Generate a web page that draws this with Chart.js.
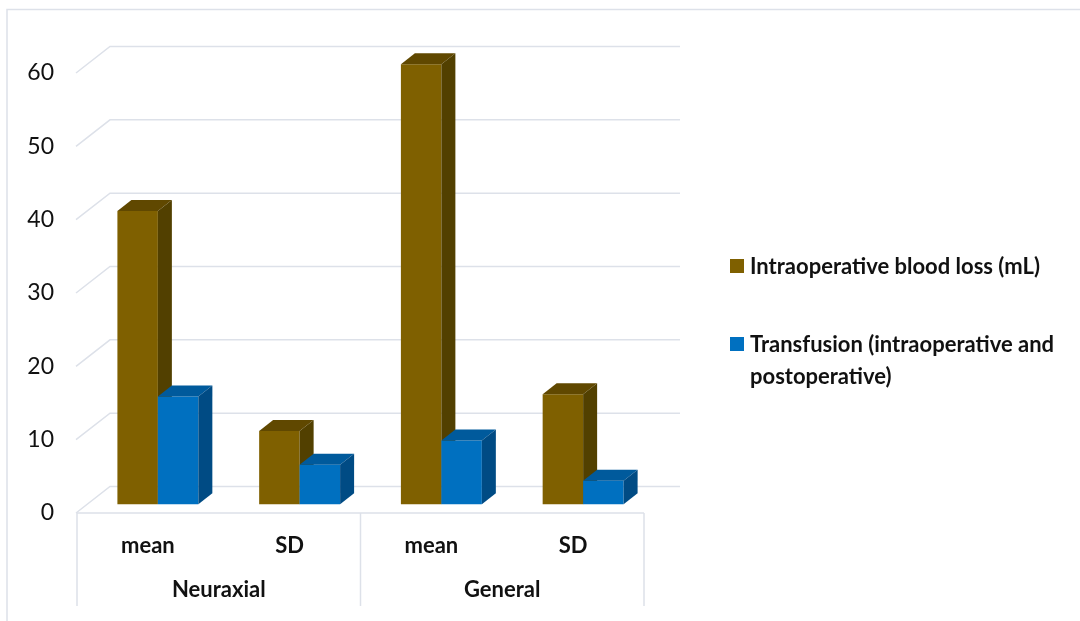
<!DOCTYPE html>
<html>
<head>
<meta charset="utf-8">
<title>Blood loss and transfusion</title>
<script src="https://cdn.jsdelivr.net/npm/chart.js@4.4.1/dist/chart.umd.min.js"></script>
<style>
  html, body { margin: 0; padding: 0; background: #fff; }
  #wrap { position: relative; width: 1080px; height: 621px; }
  #legend { font-family: Lato, "Open Sans", sans-serif; font-weight: 700; font-size: 22px; color: #111; }
  .item { position: absolute; left: 730px; }
  .sw { position: absolute; left: 0; top: 9px; width: 14px; height: 14px; }
  .txt { position: absolute; left: 20px; top: 0; width: 322px; line-height: 32px; white-space: normal; }
</style>
</head>
<body>
<div id="wrap">
  <canvas id="chart" width="1080" height="621"></canvas>
  <div id="legend"></div>
</div>
<script>
// categories and groups
const categories = ['mean', 'SD', 'mean', 'SD'];
const groups = ['Neuraxial', 'General'];
const perGroup = 2;

// series
const seriesNames = ['Intraoperative blood loss (mL)', 'Transfusion (intraoperative and postoperative)'];
const bloodLoss = [40, 10, 60, 15];
const transfusion = [14.7, 5.4, 8.7, 3.2];

// y axis
const yTicks = [0, 10, 20, 30, 40, 50, 60];

const frontColors = ['#7f6000', '#0070c0'];
const topColors = ['#604800', '#005a9c'];
const sideColors = ['#524000', '#004b84'];
const gridColor = '#dde1e9';

// perspective offsets (px)
const wall = { dx: 33, dy: 26.5, right: 680 };
const shift = { dx: 10, dy: 8.7 };
const face = { dx: 14, dy: 11 };

function drawFaces(ctx, bar, di) {
  const p = bar.getProps(['x', 'y', 'width', 'base'], true);
  const l = p.x - p.width / 2, r = p.x + p.width / 2;
  ctx.fillStyle = topColors[di];
  ctx.beginPath();
  ctx.moveTo(l, p.y);
  ctx.lineTo(l + face.dx, p.y - face.dy);
  ctx.lineTo(r + face.dx, p.y - face.dy);
  ctx.lineTo(r, p.y);
  ctx.closePath();
  ctx.fill();
  ctx.fillStyle = sideColors[di];
  ctx.beginPath();
  ctx.moveTo(r, p.y);
  ctx.lineTo(r + face.dx, p.y - face.dy);
  ctx.lineTo(r + face.dx, p.base - face.dy);
  ctx.lineTo(r, p.base);
  ctx.closePath();
  ctx.fill();
}

const perspectivePlugin = {
  id: 'perspective',
  beforeDatasetsDraw(chart) {
    const ctx = chart.ctx;
    const y = chart.scales.y;
    const area = chart.chartArea;
    ctx.save();
    ctx.strokeStyle = gridColor;
    ctx.lineWidth = 1.5;
    // back wall gridlines with the side-wall diagonals
    yTicks.forEach(v => {
      const yf = y.getPixelForValue(v);
      ctx.beginPath();
      ctx.moveTo(area.left - 1, yf);
      ctx.lineTo(area.left + wall.dx, yf - wall.dy);
      ctx.lineTo(wall.right, yf - wall.dy);
      ctx.stroke();
    });
    // outer frame
    ctx.beginPath();
    ctx.moveTo(7, chart.height);
    ctx.lineTo(7, 9.5);
    ctx.lineTo(chart.width, 9.5);
    ctx.stroke();
    ctx.restore();

    // bars pushed into the depth; left series first so the right one covers its side face
    ctx.save();
    ctx.translate(shift.dx, -shift.dy);
    const metas = chart.data.datasets.map((d, i) => chart.getDatasetMeta(i));
    metas[0].data.forEach((bar0, c) => {
      metas.forEach((meta, di) => {
        const bar = meta.data[c];
        bar.draw(ctx);
        drawFaces(ctx, bar, di);
      });
    });
    ctx.restore();
  },
  beforeDatasetDraw() {
    return false;
  },
  afterDraw(chart) {
    const ctx = chart.ctx;
    const x = chart.scales.x;
    const area = chart.chartArea;
    const step = (area.right - area.left) / categories.length;
    const bottom = 606;
    ctx.save();
    ctx.strokeStyle = gridColor;
    ctx.lineWidth = 1.5;
    ctx.beginPath();
    ctx.moveTo(area.left, area.bottom);
    ctx.lineTo(area.right, area.bottom);
    for (let g = 0; g <= groups.length; g++) {
      const gx = area.left + g * perGroup * step;
      ctx.moveTo(gx, area.bottom);
      ctx.lineTo(gx, bottom);
    }
    ctx.stroke();
    // group labels under the category ticks
    ctx.fillStyle = '#111';
    ctx.font = 'bold 22px Lato, "Open Sans", sans-serif';
    ctx.textAlign = 'center';
    ctx.textBaseline = 'middle';
    groups.forEach((name, g) => {
      const a = x.getPixelForValue(g * perGroup);
      const b = x.getPixelForValue(g * perGroup + perGroup - 1);
      ctx.fillText(name, (a + b) / 2, 590);
    });
    ctx.restore();
  }
};

new Chart(document.getElementById('chart'), {
  type: 'bar',
  data: {
    labels: categories,
    datasets: [
      { label: seriesNames[0], data: bloodLoss, backgroundColor: frontColors[0] },
      { label: seriesNames[1], data: transfusion, backgroundColor: frontColors[1] }
    ]
  },
  options: {
    responsive: false,
    animation: false,
    events: [],
    categoryPercentage: 0.571,
    barPercentage: 1,
    layout: { padding: { top: 73, left: 0, right: 436, bottom: 0 } },
    plugins: { legend: { display: false }, tooltip: { enabled: false } },
    scales: {
      x: {
        grid: { display: false },
        border: { display: false },
        ticks: { color: '#111', padding: 12, font: { family: 'Lato', size: 22, weight: 'bold' } },
        afterFit(scale) { scale.height = 108; }
      },
      y: {
        min: 0,
        max: 60,
        grid: { display: false },
        border: { display: false },
        ticks: {
          stepSize: 10,
          color: '#111',
          padding: 15,
          font: { family: 'Lato', size: 23 }
        },
        afterFit(scale) { scale.width = 77; }
      }
    }
  },
  plugins: [perspectivePlugin]
});

// legend with wrapped labels
const legend = document.getElementById('legend');
const legendTops = [250, 328];
seriesNames.forEach((name, i) => {
  const item = document.createElement('div');
  item.className = 'item';
  item.style.top = legendTops[i] + 'px';
  item.innerHTML = `<div class="sw" style="background:${frontColors[i]}"></div><div class="txt">${name}</div>`;
  legend.appendChild(item);
});
</script>
</body>
</html>
